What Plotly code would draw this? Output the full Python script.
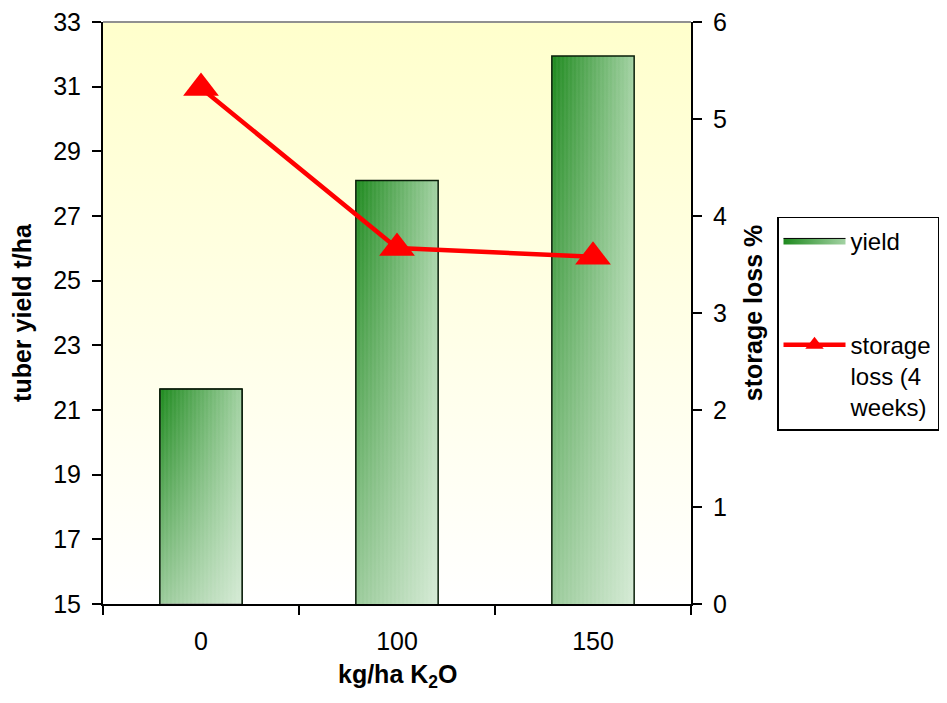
import base64

import plotly.graph_objects as go

# data
K2O_DOSE = ["0", "100", "150"]
YIELD_T_HA = [21.65, 28.1, 31.95]
STORAGE_LOSS_PCT = [5.32, 3.67, 3.58]

FONT = "Liberation Sans, Arial, sans-serif"
BAR_WIDTH = 0.42
Y_MIN = 15

# soft yellow-to-white plot background
bg_svg = (
    '<svg xmlns="http://www.w3.org/2000/svg" width="10" height="100" preserveAspectRatio="none">'
    '<defs><linearGradient id="g" x1="0" y1="0" x2="0" y2="1">'
    '<stop offset="0" stop-color="#FFFFCC"/><stop offset="1" stop-color="#FFFFFF"/>'
    '</linearGradient></defs><rect width="10" height="100" fill="url(#g)"/></svg>'
)
bg_uri = "data:image/svg+xml;base64," + base64.b64encode(bg_svg.encode()).decode()

fig = go.Figure()

# gradient fill of the bars, on a hidden linear axis that mirrors the category axis
for i, v in enumerate(YIELD_T_HA):
    xs = [i - BAR_WIDTH / 2, i + BAR_WIDTH / 2, i + BAR_WIDTH / 2, i - BAR_WIDTH / 2, i - BAR_WIDTH / 2]
    ys = [Y_MIN, Y_MIN, v, v, Y_MIN]
    fig.add_trace(
        go.Scatter(
            x=xs, y=ys, xaxis="x", yaxis="y", mode="lines", fill="toself",
            line=dict(color="black", width=1 if i == 0 else 0),
            fillgradient=dict(type="horizontal", colorscale=[[0, "#1E8A1E"], [1, "#A3D2A3"]]),
            name="yield", legendgroup="yield", showlegend=(i == 0), hoverinfo="skip",
        )
    )
    fig.add_trace(
        go.Scatter(
            x=xs, y=ys, xaxis="x", yaxis="y", mode="lines", fill="toself",
            line=dict(width=0),
            fillgradient=dict(
                type="vertical",
                colorscale=[[0, "rgba(255,255,255,0.55)"], [1, "rgba(255,255,255,0)"]],
            ),
            showlegend=False, hoverinfo="skip",
        )
    )

# bar outlines with a light streak texture
fig.add_trace(
    go.Bar(
        x=K2O_DOSE, y=YIELD_T_HA, width=BAR_WIDTH, xaxis="x2", yaxis="y",
        marker=dict(
            color="rgba(0,0,0,0)",
            line=dict(color="#0A1F0A", width=1.5),
            pattern=dict(shape="|", fgcolor="rgba(255,255,255,0.18)", size=4, solidity=0.2),
        ),
        showlegend=False, name="yield",
    )
)

fig.add_trace(
    go.Scatter(
        x=K2O_DOSE, y=STORAGE_LOSS_PCT, xaxis="x2", yaxis="y2", mode="lines+markers",
        line=dict(color="#FF0000", width=4.5),
        marker=dict(symbol="triangle-up", size=31, color="#FF0000"),
        name="storage<br>loss (4<br>weeks)", legendgroup="loss",
    )
)

axis_common = dict(
    showline=True, linecolor="black", linewidth=2, ticks="outside", ticklen=9,
    tickwidth=1.5, tickcolor="black", showgrid=False, zeroline=False, automargin=False,
    ticklabeloverflow="allow", tickfont=dict(size=25, color="black"),
)

# the page adds an 8px body margin, so the figure is 16px smaller than the window
fig.update_layout(
    width=931, height=687,
    margin=dict(l=95, r=248, t=14, b=91),
    paper_bgcolor="white", plot_bgcolor="rgba(0,0,0,0)",
    font=dict(family=FONT, size=24, color="black"),
    barmode="overlay",
    images=[dict(source=bg_uri, xref="paper", yref="paper", x=0, y=1, sizex=1, sizey=1,
                 xanchor="left", yanchor="top", sizing="stretch", layer="below")],
    xaxis=dict(range=[-0.5, 2.5], visible=False),
    xaxis2=dict(
        **axis_common, type="category", tickson="boundaries", range=[-0.5, 2.5],
        overlaying="x", anchor="y", side="bottom", ticklabelstandoff=14,
    ),
    yaxis=dict(
        **axis_common, range=[15, 33], dtick=2, tick0=15, ticklabelstandoff=6,
        title=dict(text="<b>tuber yield t/ha</b>", font=dict(size=25), standoff=18),
    ),
    yaxis2=dict(
        **axis_common, overlaying="y", side="right", range=[0, 6], dtick=1, ticklabelstandoff=6,
        title=dict(text="<b>storage loss %</b>", font=dict(size=25), standoff=18),
    ),
    annotations=[dict(text="<b>kg/ha K<sub>2</sub>O</b>", xref="paper", yref="paper",
                      x=0.5, y=-0.124, xanchor="center", yanchor="middle",
                      showarrow=False, font=dict(size=25))],
    legend=dict(
        xref="container", yref="container", x=0.826, y=0.696, xanchor="left", yanchor="top",
        valign="top", bordercolor="black", borderwidth=1.5, bgcolor="white",
        font=dict(size=24), tracegroupgap=70, itemwidth=62,
    ),
    shapes=[dict(type="line", xref="paper", yref="paper", x0=0, x1=1, y0=1, y1=1,
                 line=dict(color="#909090", width=2))],
)

fig.write_html("out.html")
